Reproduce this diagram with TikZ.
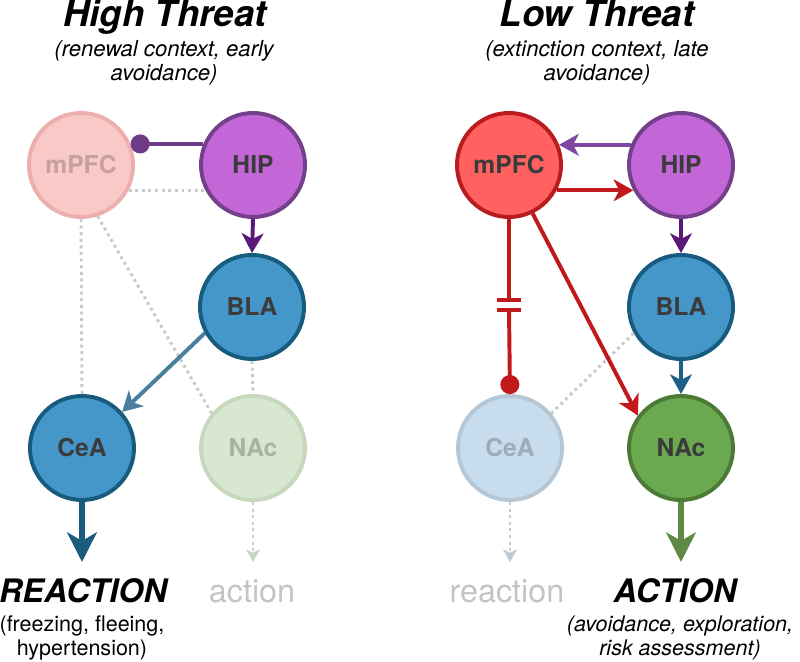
\documentclass[tikz,border=0pt]{standalone}
\usepackage{fontspec}
\setmainfont{TeX Gyre Heros}
\usetikzlibrary{arrows.meta,positioning}

\definecolor{labeltext}{HTML}{3B3B3B}
\definecolor{hipfill}{HTML}{C266D8}
\definecolor{hipdraw}{HTML}{74408C}
\definecolor{blafill}{HTML}{4597C9}
\definecolor{bladraw}{HTML}{175C7E}
\definecolor{pfcfill}{HTML}{FF6161}
\definecolor{pfcdraw}{HTML}{B81C1E}
\definecolor{nacfill}{HTML}{6BA950}
\definecolor{nacdraw}{HTML}{4D7A36}
\definecolor{pfcfaint}{HTML}{F9C9C7}
\definecolor{pfcfaintdraw}{HTML}{EDAFAE}
\definecolor{pfcfainttext}{HTML}{C5A09F}
\definecolor{nacfaint}{HTML}{D8E7CF}
\definecolor{nacfaintdraw}{HTML}{C8D8BE}
\definecolor{nacfainttext}{HTML}{A7B39F}
\definecolor{ceafaint}{HTML}{C7DDEE}
\definecolor{ceafaintdraw}{HTML}{B5C7D5}
\definecolor{ceafainttext}{HTML}{9FABB6}
\definecolor{dotgray}{HTML}{CACACA}
\definecolor{hipline}{HTML}{6F3B88}
\definecolor{hiparrow}{HTML}{7D48A1}
\definecolor{hipbla}{HTML}{5B1878}
\definecolor{blacea}{HTML}{4A7E9F}
\definecolor{blanac}{HTML}{1F5F83}
\definecolor{ceaout}{HTML}{1B5D7F}
\definecolor{nacout}{HTML}{5E8A43}
\definecolor{redline}{HTML}{C1181C}
\definecolor{actfaint}{HTML}{C9D5C2}
\definecolor{reactfaint}{HTML}{B9CCDA}
\definecolor{greytext}{HTML}{C4C4C4}

\tikzset{
  region/.style={circle, minimum size=2.6cm, inner sep=0pt, line width=2.8pt,
    font=\bfseries\fontsize{17.5}{20}\selectfont, text=labeltext},
  link/.style={line width=2.8pt, -{Stealth[length=14pt,width=15.5pt,inset=4pt]}},
  inhibit/.style={line width=2.8pt, -{Circle[length=13.5pt]}},
  outarrow/.style={line width=4.3pt, -{Stealth[length=21pt,width=21pt,inset=6pt]}},
  faint/.style={dotgray, line width=2.1pt, dash pattern=on 2.1pt off 2.6pt},
  faintout/.style={line width=2.1pt, dash pattern=on 2.1pt off 2.6pt,
    -{Stealth[length=9pt,width=10pt,inset=2.5pt]}},
  title/.style={anchor=base, font=\bfseries\itshape\fontsize{26}{30}\selectfont},
  subtitle/.style={anchor=base, align=center, font=\itshape\fontsize{15.7}{17.1}\selectfont},
  outcome/.style={anchor=base, font=\bfseries\itshape\fontsize{23}{26}\selectfont},
  weakoutcome/.style={anchor=base, text=greytext, font=\fontsize{23}{26}\selectfont}
}

\begin{document}
\begin{tikzpicture}[x=0.025cm,y=-0.025cm]
  \useasboundingbox (0,0) rectangle (800,662);

  % high threat
  \node[title] (titleL) at (165,27) {High Threat};
  \node[subtitle] (subL) at (164,81) {(renewal context, early\\avoidance)};

  \node[region, fill=pfcfaint, draw=pfcfaintdraw, text=pfcfainttext] (pfcL) at (81,165) {mPFC};
  \node[region, fill=hipfill, draw=hipdraw] (hipL) at (253,165) {HIP};
  \node[region, fill=blafill, draw=bladraw] (blaL) at (252,307) {BLA};
  \node[region, fill=blafill, draw=bladraw] (ceaL) at (82,448) {CeA};
  \node[region, fill=nacfaint, draw=nacfaintdraw, text=nacfainttext] (nacL) at (253,448) {NAc};

  \draw[faint] (pfcL.-28) -- (hipL.208);
  \draw[faint] (pfcL.south) -- (ceaL.north);
  \draw[faint] (pfcL.-72) -- (nacL.140);
  \draw[faint] (blaL.south) -- (nacL.north);
  \draw[inhibit, hipline] (hipL.157) -- (pfcL.23);
  \draw[link, hipbla] (hipL.south) -- (blaL.north);
  \draw[link, blacea] (blaL.209) -- (ceaL.42);

  \coordinate (reactL) at (82,562);
  \coordinate (actL) at (253,562);
  \draw[outarrow, ceaout] (ceaL.south) -- (reactL);
  \draw[faintout, actfaint] (nacL.south) -- (actL);

  \node[outcome] (reactTxtL) at (83,602) {REACTION};
  \node[anchor=base, align=center, font=\fontsize{15.3}{16.4}\selectfont] (reactSubL) at (82,655) {(freezing, fleeing,\\hypertension)};
  \node[weakoutcome] (actTxtL) at (252,602) {action};

  % low threat
  \node[title] (titleR) at (597,27) {Low Threat};
  \node[subtitle] (subR) at (597,81) {(extinction context, late\\avoidance)};

  \node[region, fill=pfcfill, draw=pfcdraw] (pfcR) at (509,165) {mPFC};
  \node[region, fill=hipfill, draw=hipdraw] (hipR) at (681,165) {HIP};
  \node[region, fill=blafill, draw=bladraw] (blaR) at (681,307) {BLA};
  \node[region, fill=ceafaint, draw=ceafaintdraw, text=ceafainttext] (ceaR) at (510,448) {CeA};
  \node[region, fill=nacfill, draw=nacdraw] (nacR) at (681,448) {NAc};

  \draw[faint] (blaR.209) -- (ceaR.40);
  \draw[link, hiparrow] (hipR.158) -- (pfcR.22);
  \draw[link, redline] (pfcR.-28) -- (hipR.208);
  \draw[link, hipbla] (hipR.south) -- (blaR.north);
  \draw[link, blanac] (blaR.south) -- (nacR.north);
  \draw[link, redline] (pfcR.-64) -- (nacR.143);

  % broken mPFC -> CeA line
  \coordinate (gapA) at (509,300);
  \coordinate (gapB) at (509,310);
  \draw[redline, line width=2.8pt] (pfcR.south) -- (gapA);
  \draw[redline, line width=2.8pt] ([xshift=-0.31cm]gapA) -- ([xshift=0.31cm]gapA);
  \draw[redline, line width=2.8pt] ([xshift=-0.31cm]gapB) -- ([xshift=0.31cm]gapB);
  \draw[inhibit, redline] (gapB) -- (ceaR.north);

  \coordinate (reactR) at (510,562);
  \coordinate (actR) at (681,562);
  \draw[faintout, reactfaint] (ceaR.south) -- (reactR);
  \draw[outarrow, nacout] (nacR.south) -- (actR);

  \node[weakoutcome] (reactTxtR) at (507,602) {reaction};
  \node[outcome] (actTxtR) at (675,602) {ACTION};
  \node[anchor=base, align=center, font=\itshape\fontsize{15.3}{16.4}\selectfont] (actSubR) at (680,655) {(avoidance, exploration,\\risk assessment)};
\end{tikzpicture}
\end{document}
